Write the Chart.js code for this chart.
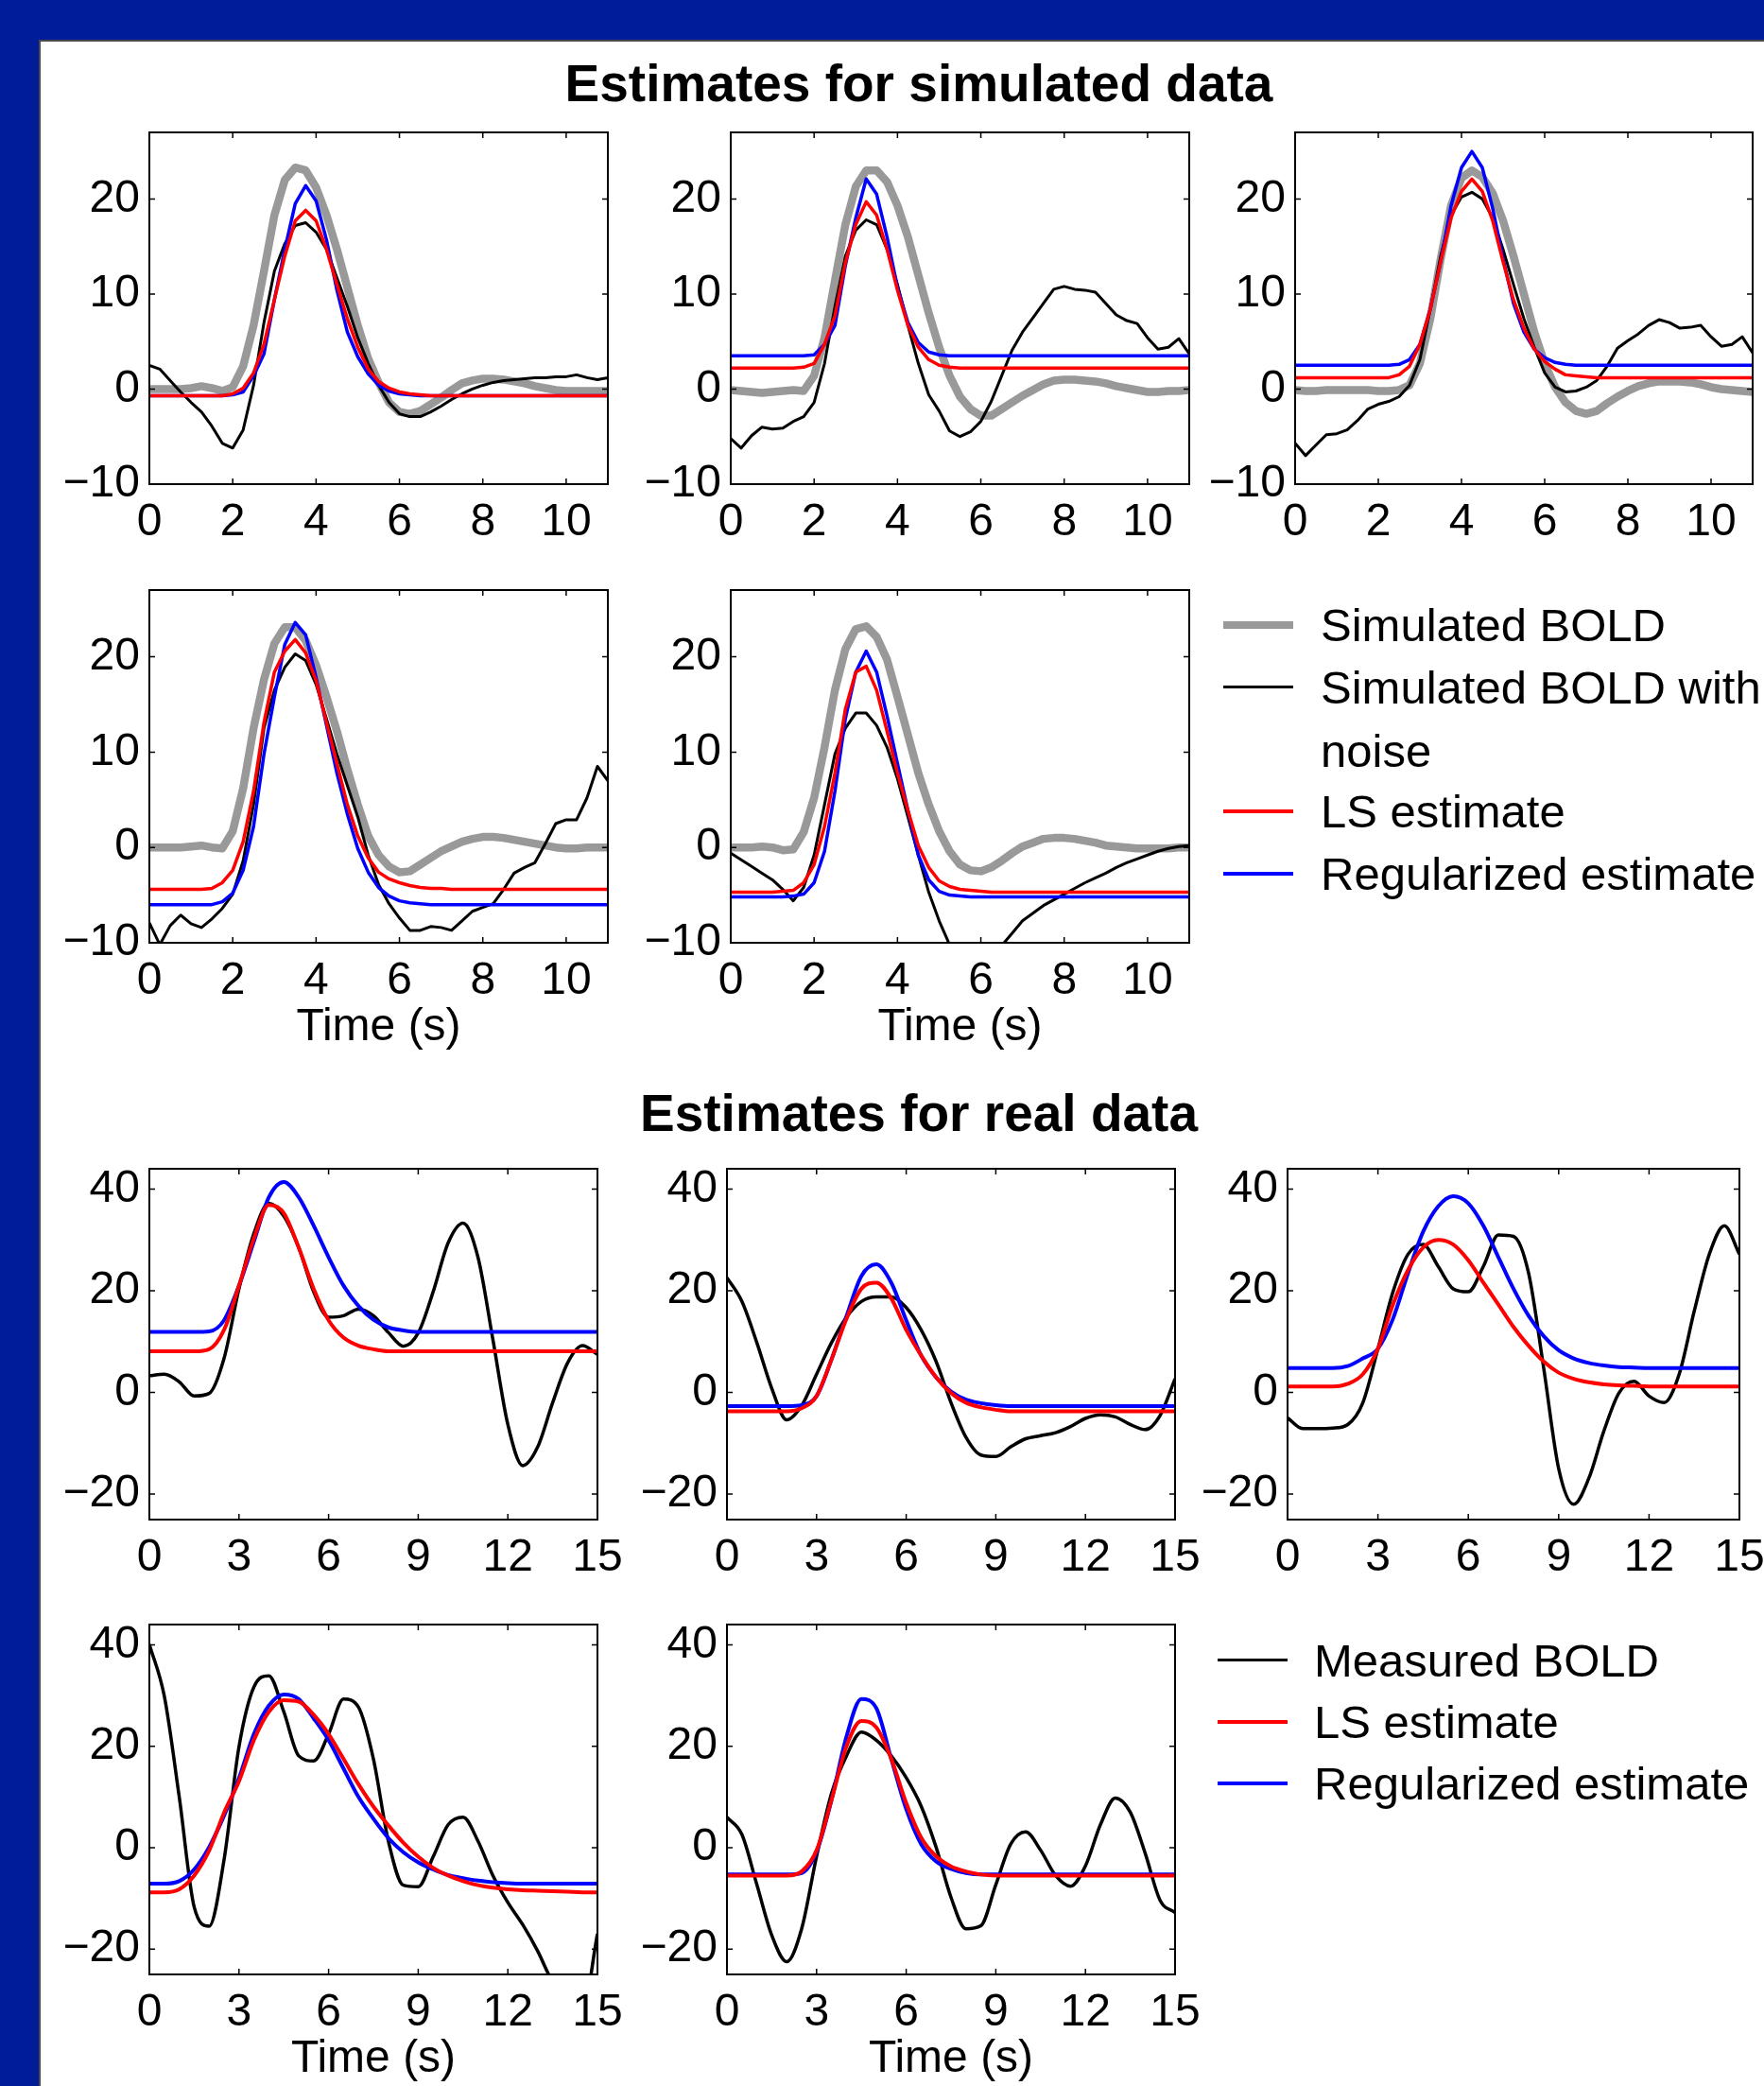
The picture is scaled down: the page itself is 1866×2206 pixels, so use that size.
<!DOCTYPE html>
<html>
<head>
<meta charset="utf-8">
<script src="https://cdn.jsdelivr.net/npm/chart.js@4.4.1/dist/chart.umd.min.js"></script>
<style>
  html, body { margin: 0; padding: 0; }
  body { width: 1866px; height: 2206px; background: #001c98; position: relative; overflow: hidden;
         font-family: "Liberation Sans", Arial, Helvetica, sans-serif; }
  #sheet { position: absolute; left: 41px; top: 42px; width: 1825px; height: 2164px; background: #fff;
           border-left: 2px solid #4a4a4a; border-top: 2px solid #4a4a4a; box-sizing: border-box; }
  .title { position: absolute; left: 472px; width: 1000px; text-align: center; font-weight: bold;
           font-size: 55px; line-height: 55px; color: #000; }
  .leg { position: absolute; font-size: 49px; line-height: 60px; color: #000; white-space: nowrap; }
  .sw { position: absolute; }
  canvas { position: absolute; }
</style>
</head>
<body>
<div id="sheet"></div>
<div class="title" style="top:61px">Estimates for simulated data</div>
<div class="title" style="top:1150px">Estimates for real data</div>

<!-- legend, simulated -->
<div class="sw" style="left:1294px;width:74px;top:657px;height:8px;background:#999999"></div>
<div class="leg" style="left:1397px;top:631px">Simulated BOLD</div>
<div class="sw" style="left:1294px;width:74px;top:725px;height:3px;background:#000"></div>
<div class="leg" style="left:1397px;top:697px">Simulated BOLD with</div>
<div class="leg" style="left:1397px;top:764px">noise</div>
<div class="sw" style="left:1294px;width:74px;top:856px;height:4px;background:#ff0000"></div>
<div class="leg" style="left:1397px;top:828px">LS estimate</div>
<div class="sw" style="left:1294px;width:74px;top:922px;height:4px;background:#0000ff"></div>
<div class="leg" style="left:1397px;top:894px">Regularized estimate</div>

<!-- legend, real -->
<div class="sw" style="left:1288px;width:74px;top:1754px;height:3px;background:#000"></div>
<div class="leg" style="left:1390px;top:1726px">Measured BOLD</div>
<div class="sw" style="left:1288px;width:74px;top:1819px;height:4px;background:#ff0000"></div>
<div class="leg" style="left:1390px;top:1791px">LS estimate</div>
<div class="sw" style="left:1288px;width:74px;top:1884px;height:4px;background:#0000ff"></div>
<div class="leg" style="left:1390px;top:1856px">Regularized estimate</div>

<script>
// axis ticks
const simTicksX = [0, 2, 4, 6, 8, 10];
const simTicksY = [-10, 0, 10, 20];
const realTicksX = [0, 3, 6, 9, 12, 15];
const realTicksY = [-20, 0, 20, 40];

// time samples
const tSim = [0, 0.25, 0.5, 0.75, 1, 1.25, 1.5, 1.75, 2, 2.25, 2.5, 2.75, 3, 3.25, 3.5, 3.75, 4, 4.25,
  4.5, 4.75, 5, 5.25, 5.5, 5.75, 6, 6.25, 6.5, 6.75, 7, 7.25, 7.5, 7.75, 8, 8.25, 8.5, 8.75, 9, 9.25,
  9.5, 9.75, 10, 10.25, 10.5, 10.75, 11];
const tReal = [0, 0.5, 1, 1.5, 2, 2.5, 3, 3.5, 4, 4.5, 5, 5.5, 6, 6.5, 7, 7.5, 8, 8.5, 9, 9.5, 10,
  10.5, 11, 11.5, 12, 12.5, 13, 13.5, 14, 14.5, 15];

// simulated data, panel 1
const sim1Bold = [0, 0, 0, 0, 0.1, 0.3, 0.1, -0.2, 0.2, 2.4, 6.7, 12.4, 18.3, 22, 23.3, 23, 21.2, 18.3, 14.7,
  10.7, 6.7, 3.2, 0.7, -1.4, -2.4, -2.6, -2.3, -1.6, -0.9, -0.1, 0.6, 0.9, 1.1, 1.1, 1.0, 0.8, 0.6, 0.3,
  0.1, -0.1, -0.2, -0.2, -0.2, -0.2, -0.2];
const sim1Noisy = [2.5, 2.1, 0.9, -0.3, -1.4, -2.4, -3.9, -5.7, -6.2, -4.3, 0.4, 7.0, 12.4, 15.3, 17.2, 17.5,
  16.5, 14.7, 11.7, 8.7, 5.4, 2.7, 0.4, -1.4, -2.6, -2.9, -2.9, -2.4, -1.8, -1.1, -0.5, 0.0, 0.4, 0.7, 0.9,
  1.0, 1.1, 1.2, 1.2, 1.3, 1.3, 1.5, 1.2, 1.0, 1.2];
const sim1LS = [-0.7, -0.7, -0.7, -0.7, -0.7, -0.7, -0.7, -0.7, -0.5, 0.1, 1.7, 4.7, 9.4, 14, 17.7, 18.8,
  17.7, 14.7, 11, 7.4, 4.4, 2.1, 0.8, 0.1, -0.3, -0.5, -0.6, -0.7, -0.7, -0.7, -0.7, -0.7, -0.7, -0.7,
  -0.7, -0.7, -0.7, -0.7, -0.7, -0.7, -0.7, -0.7, -0.7, -0.7, -0.7];
const sim1Reg = [-0.7, -0.7, -0.7, -0.7, -0.7, -0.7, -0.7, -0.7, -0.6, -0.3, 1.4, 3.7, 9.4, 14.7, 19.5, 21.4,
  19.8, 15.7, 10.4, 6.0, 3.4, 1.6, 0.4, -0.2, -0.5, -0.6, -0.7, -0.7, -0.7, -0.7, -0.7, -0.7, -0.7, -0.7,
  -0.7, -0.7, -0.7, -0.7, -0.7, -0.7, -0.7, -0.7, -0.7, -0.7, -0.7];

// panel 2
const sim2Bold = [-0.1, -0.2, -0.3, -0.4, -0.3, -0.2, -0.1, -0.2, 1.4, 5.4, 11.4, 17.3, 21.3, 23, 23, 21.8,
  19.3, 16, 12, 8, 4.4, 1.4, -0.8, -2.1, -2.8, -2.8, -2.1, -1.4, -0.7, -0.1, 0.5, 0.9, 1.0, 1.0, 0.9, 0.8,
  0.6, 0.3, 0.1, -0.1, -0.3, -0.3, -0.2, -0.2, -0.1];
const sim2Noisy = [-5.2, -6.2, -4.9, -4.0, -4.2, -4.1, -3.4, -2.9, -1.4, 2.7, 8.7, 14, 16.7, 17.8, 17.3, 14.7,
  11, 6.7, 2.7, -0.6, -2.3, -4.4, -5.0, -4.5, -3.4, -1.3, 1.4, 4.1, 6.0, 7.5, 9.0, 10.5, 10.8, 10.5, 10.4,
  10.2, 9.0, 7.8, 7.2, 6.9, 5.4, 4.2, 4.4, 5.3, 3.7];
const sim2LS = [2.2, 2.2, 2.2, 2.2, 2.2, 2.2, 2.2, 2.3, 2.7, 4.7, 7.7, 13.3, 17.3, 19.7, 18.3, 14.7, 10.4,
  6.7, 4.4, 3.1, 2.5, 2.3, 2.2, 2.2, 2.2, 2.2, 2.2, 2.2, 2.2, 2.2, 2.2, 2.2, 2.2, 2.2, 2.2, 2.2, 2.2, 2.2,
  2.2, 2.2, 2.2, 2.2, 2.2, 2.2, 2.2];
const sim2Reg = [3.5, 3.5, 3.5, 3.5, 3.5, 3.5, 3.5, 3.5, 3.6, 4.7, 6.7, 13.0, 18.0, 22.1, 20.5, 16, 10.7,
  7.0, 4.9, 3.9, 3.6, 3.5, 3.5, 3.5, 3.5, 3.5, 3.5, 3.5, 3.5, 3.5, 3.5, 3.5, 3.5, 3.5, 3.5, 3.5, 3.5, 3.5,
  3.5, 3.5, 3.5, 3.5, 3.5, 3.5, 3.5];

// panel 3
const sim3Bold = [-0.1, -0.2, -0.2, -0.1, -0.1, -0.1, -0.1, -0.1, -0.2, -0.2, -0.1, 0.4, 2.7, 7.4, 13.7,
  19.3, 22.2, 23, 22.3, 20.6, 17.7, 14, 10, 6, 2.7, 0.2, -1.4, -2.3, -2.6, -2.3, -1.5, -0.8, -0.2, 0.3,
  0.6, 0.8, 0.8, 0.8, 0.7, 0.5, 0.2, 0.0, -0.1, -0.2, -0.3];
const sim3Noisy = [-5.7, -7.0, -5.9, -4.8, -4.7, -4.3, -3.3, -2.1, -1.6, -1.3, -0.8, 0.4, 3.1, 8.4, 14.0,
  18.3, 20.2, 20.7, 20, 18, 14.7, 11, 7.4, 4.4, 1.7, 0.2, -0.3, -0.2, 0.2, 0.9, 2.4, 4.3, 5.1, 5.8, 6.7,
  7.3, 7.0, 6.4, 6.5, 6.7, 5.5, 4.5, 4.7, 5.5, 3.8];
const sim3LS = [1.2, 1.2, 1.2, 1.2, 1.2, 1.2, 1.2, 1.2, 1.2, 1.2, 1.5, 2.4, 4.7, 8.4, 13.4, 18, 20.8, 22.1,
  20.8, 17.7, 13.4, 9.4, 6.4, 4.2, 2.9, 2.1, 1.5, 1.4, 1.3, 1.2, 1.2, 1.2, 1.2, 1.2, 1.2, 1.2, 1.2, 1.2,
  1.2, 1.2, 1.2, 1.2, 1.2, 1.2, 1.2];
const sim3Reg = [2.5, 2.5, 2.5, 2.5, 2.5, 2.5, 2.5, 2.5, 2.5, 2.5, 2.6, 3.1, 4.7, 8.4, 13.4, 19.3, 23.3, 25,
  23.3, 19, 13.7, 9, 6, 4.2, 3.3, 2.8, 2.6, 2.5, 2.5, 2.5, 2.5, 2.5, 2.5, 2.5, 2.5, 2.5, 2.5, 2.5, 2.5,
  2.5, 2.5, 2.5, 2.5, 2.5, 2.5];

// panel 4
const sim4Bold = [0, 0, 0, 0, 0.1, 0.2, 0, -0.1, 1.7, 6.2, 12.5, 17.6, 21.4, 23.1, 23.1, 21.7, 19.1, 15.8,
  12.2, 8.2, 4.5, 1.2, -0.8, -2.0, -2.6, -2.5, -1.8, -1.1, -0.4, 0.1, 0.6, 0.9, 1.1, 1.1, 1.0, 0.8, 0.6,
  0.4, 0.2, 0.0, -0.1, -0.1, 0, 0, 0];
const sim4Noisy = [-7.9, -10.2, -8.2, -7.1, -8.0, -8.4, -7.5, -6.4, -4.9, -1.4, 4.5, 12.5, 16.5, 18.9, 20.3,
  19.6, 17.1, 13.5, 9.8, 6.5, 3.2, -0.8, -3.9, -5.9, -7.4, -8.7, -8.7, -8.3, -8.4, -8.7, -7.7, -6.7, -6.3,
  -5.9, -4.4, -2.7, -2.1, -1.6, 0.4, 2.5, 2.9, 2.9, 5.2, 8.5, 7.0];
const sim4LS = [-4.4, -4.4, -4.4, -4.4, -4.4, -4.4, -4.3, -3.7, -2.4, 0.6, 5.9, 13.1, 18.4, 20.6, 21.8,
  20.4, 17.5, 13.1, 8.8, 4.5, 1.2, -1.1, -2.6, -3.3, -3.7, -4.0, -4.2, -4.3, -4.3, -4.4, -4.4, -4.4, -4.4,
  -4.4, -4.4, -4.4, -4.4, -4.4, -4.4, -4.4, -4.4, -4.4, -4.4, -4.4, -4.4];
const sim4Reg = [-6.0, -6.0, -6.0, -6.0, -6.0, -6.0, -6.0, -5.7, -4.8, -2.4, 2.2, 9.8, 15.8, 21.3, 23.6,
  22.3, 17.8, 12.8, 7.8, 3.5, -0.1, -2.6, -4.2, -5.1, -5.6, -5.8, -5.9, -6.0, -6.0, -6.0, -6.0, -6.0,
  -6.0, -6.0, -6.0, -6.0, -6.0, -6.0, -6.0, -6.0, -6.0, -6.0, -6.0, -6.0, -6.0];

// panel 5
const sim5Bold = [0, 0, 0, 0.1, 0, -0.3, -0.2, 1.6, 5.2, 10.5, 16.5, 20.8, 22.9, 23.2, 22.1, 19.7, 15.8,
  11.8, 7.8, 4.5, 1.7, -0.4, -1.8, -2.4, -2.5, -2.1, -1.4, -0.6, 0.1, 0.5, 0.9, 1.0, 1.0, 0.9, 0.7, 0.5,
  0.2, 0.1, 0, -0.1, -0.1, -0.1, -0.1, 0, 0];
const sim5Noisy = [-0.6, -1.3, -2.0, -2.7, -3.4, -4.4, -5.6, -4.2, -0.8, 4.5, 9.8, 12.5, 14.1, 14.1, 12.8,
  10.5, 7.2, 3.2, -0.8, -4.7, -7.7, -10.2, -12.0, -13.0, -13.2, -12.0, -10.3, -9.0, -7.7, -6.9, -6.1,
  -5.5, -4.9, -4.3, -3.7, -3.2, -2.7, -2.1, -1.6, -1.2, -0.8, -0.4, -0.1, 0.1, 0.2];
const sim5LS = [-4.7, -4.7, -4.7, -4.7, -4.7, -4.6, -4.5, -3.7, -1.8, 2.2, 7.8, 14.5, 18.4, 19.0, 16.5,
  12.2, 7.8, 3.9, 0.2, -2.1, -3.5, -4.1, -4.4, -4.5, -4.6, -4.7, -4.7, -4.7, -4.7, -4.7, -4.7, -4.7, -4.7,
  -4.7, -4.7, -4.7, -4.7, -4.7, -4.7, -4.7, -4.7, -4.7, -4.7, -4.7, -4.7];
const sim5Reg = [-5.2, -5.2, -5.2, -5.2, -5.2, -5.2, -5.1, -4.9, -3.7, -0.4, 5.9, 13.5, 18.4, 20.6, 18.4,
  13.8, 8.8, 3.9, -0.8, -3.4, -4.6, -5.0, -5.1, -5.2, -5.2, -5.2, -5.2, -5.2, -5.2, -5.2, -5.2, -5.2,
  -5.2, -5.2, -5.2, -5.2, -5.2, -5.2, -5.2, -5.2, -5.2, -5.2, -5.2, -5.2, -5.2];

// real data, panels 1-5
const real1Measured = [3.3, 3.6, 2.1, -0.7, -0.2, 6.7, 20.4, 31.3, 37.2, 34.7, 28.5, 19.8, 14.8, 15.1, 16.4,
  15.1, 11.8, 9.1, 11.7, 19.8, 29.4, 33.3, 26.6, 10.4, -6.3, -14.4, -10.7, -2.0, 5.8, 9.2, 7.5];
const real1LS = [8.1, 8.1, 8.1, 8.1, 8.5, 12.3, 21.0, 30.3, 36.9, 35.3, 28.5, 20.4, 14.2, 10.8, 9.2, 8.5,
  8.1, 8.1, 8.1, 8.1, 8.1, 8.1, 8.1, 8.1, 8.1, 8.1, 8.1, 8.1, 8.1, 8.1, 8.1];
const real1Reg = [11.9, 11.9, 11.9, 11.9, 12.0, 14.2, 21.0, 29.7, 38.4, 41.4, 38.4, 32.8, 26.6, 21.0, 17.0,
  14.3, 12.8, 12.2, 11.9, 11.9, 11.9, 11.9, 11.9, 11.9, 11.9, 11.9, 11.9, 11.9, 11.9, 11.9, 11.9];

const real2Measured = [22.6, 17.9, 9.8, 0.8, -5.4, -2.6, 3.6, 9.8, 14.8, 17.9, 18.8, 18.8, 16.7, 12.3, 6.1,
  -2.0, -8.8, -12.3, -12.6, -10.7, -9.1, -8.5, -7.9, -6.7, -5.1, -4.4, -4.8, -6.3, -7.3, -4.5, 2.7];
const real2LS = [-3.7, -3.7, -3.7, -3.7, -3.7, -3.1, -0.7, 6.5, 14.5, 20.4, 21.6, 18.5, 12.3, 7.3, 3.0,
  -0.1, -2.0, -2.9, -3.4, -3.7, -3.7, -3.7, -3.7, -3.7, -3.7, -3.7, -3.7, -3.7, -3.7, -3.7, -3.7];
const real2Reg = [-2.7, -2.7, -2.7, -2.7, -2.7, -2.5, -0.7, 6.5, 15.0, 22.9, 25.2, 21.6, 14.2, 7.3, 3.0,
  0.2, -1.4, -2.1, -2.5, -2.7, -2.7, -2.7, -2.7, -2.7, -2.7, -2.7, -2.7, -2.7, -2.7, -2.7, -2.7];

const real3Measured = [-5.0, -7.1, -7.1, -7.0, -6.3, -2.0, 8.6, 19.8, 27.2, 29.1, 24.8, 20.4, 19.8, 24.8,
  31.0, 30.7, 23.5, 4.9, -15.0, -22.0, -16.9, -7.6, -0.1, 2.2, -0.7, -2.0, 3.6, 16.0, 27.2, 32.8, 27.2];
const real3LS = [1.2, 1.2, 1.2, 1.2, 1.7, 3.6, 8.6, 17.3, 24.1, 28.5, 30.0, 29.1, 26.0, 21.6, 17.3, 12.9,
  9.2, 6.1, 3.9, 2.7, 2.0, 1.6, 1.4, 1.3, 1.2, 1.2, 1.2, 1.2, 1.2, 1.2, 1.2];
const real3Reg = [4.8, 4.8, 4.8, 4.8, 5.2, 6.7, 8.6, 14.5, 23.5, 31.6, 36.6, 38.6, 37.2, 32.8, 26.6, 20.4,
  15.1, 11.1, 8.3, 6.7, 5.8, 5.3, 5.0, 4.9, 4.8, 4.8, 4.8, 4.8, 4.8, 4.8, 4.8];

const real4Measured = [40.1, 29.9, 10.0, -11.7, -15.5, -2.4, 19.9, 31.7, 33.9, 26.8, 18.1, 17.1, 22.4, 29.3,
  27.7, 17.5, 1.3, -7.4, -7.7, -1.8, 4.5, 6.0, 1.3, -5.5, -10.8, -15.2, -20.4, -26.5, -30, -32, -17.0];
const real4LS = [-8.8, -8.8, -8.2, -5.5, -0.6, 6.9, 13.1, 21.2, 26.8, 29.1, 28.8, 26.2, 22.4, 17.5, 12.5,
  8.1, 4.4, 1.0, -1.8, -4.0, -5.5, -6.6, -7.4, -7.9, -8.2, -8.4, -8.5, -8.6, -8.7, -8.8, -8.8];
const real4Reg = [-7.1, -7.1, -6.6, -4.3, 0.1, 6.3, 13.7, 22.4, 28.0, 30.2, 29.3, 25.5, 21.2, 15.6, 10.0,
  5.7, 1.9, -0.9, -2.9, -4.3, -5.4, -6.0, -6.5, -6.8, -7.0, -7.1, -7.1, -7.1, -7.1, -7.1, -7.1];

const real5Measured = [6.0, 2.6, -7.3, -17.3, -22.5, -16.0, -1.7, 10.7, 18.1, 22.8, 21.2, 18.1, 13.8, 8.2,
  0.1, -9.8, -16.0, -15.4, -7.3, 0.7, 3.1, -0.5, -5.5, -7.6, -3.6, 4.5, 9.8, 7.0, -1.1, -10.4, -12.8];
const real5LS = [-5.5, -5.5, -5.5, -5.5, -5.5, -4.7, -0.5, 9.4, 20.0, 25.0, 23.7, 17.5, 8.8, 2.0, -1.7,
  -3.7, -4.7, -5.3, -5.5, -5.5, -5.5, -5.5, -5.5, -5.5, -5.5, -5.5, -5.5, -5.5, -5.5, -5.5, -5.5];
const real5Reg = [-5.3, -5.3, -5.3, -5.3, -5.3, -5.0, -0.8, 9.4, 21.9, 29.3, 27.5, 17.5, 7.6, 0.7, -2.7,
  -4.2, -5.0, -5.3, -5.3, -5.3, -5.3, -5.3, -5.3, -5.3, -5.3, -5.3, -5.3, -5.3, -5.3, -5.3, -5.3];

// ---- drawing ----
const FONT = '"Liberation Sans", Arial, Helvetica, sans-serif';
const tickFont = { family: FONT, size: 48 };
const minus = v => (v < 0 ? '\u2212' + Math.abs(v) : String(v));

// matlab style box with inward ticks on all four sides
const axesBox = {
  id: 'axesBox',
  afterDatasetsDraw(chart) {
    const { ctx, chartArea: a, scales: { x, y } } = chart;
    ctx.save();
    ctx.strokeStyle = '#000';
    ctx.lineWidth = 2;
    ctx.strokeRect(a.left, a.top, a.right - a.left, a.bottom - a.top);
    ctx.lineWidth = 1.5;
    ctx.beginPath();
    x.ticks.forEach(t => {
      const px = x.getPixelForValue(t.value);
      ctx.moveTo(px, a.bottom); ctx.lineTo(px, a.bottom - 6);
      ctx.moveTo(px, a.top); ctx.lineTo(px, a.top + 6);
    });
    y.ticks.forEach(t => {
      const py = y.getPixelForValue(t.value);
      ctx.moveTo(a.left, py); ctx.lineTo(a.left + 6, py);
      ctx.moveTo(a.right, py); ctx.lineTo(a.right - 6, py);
    });
    ctx.stroke();
    ctx.restore();
  }
};

const zip = (t, v) => t.map((x, i) => ({ x: x, y: v[i] }));

function line(t, v, color, width, smooth) {
  return {
    data: zip(t, v), borderColor: color, borderWidth: width, pointRadius: 0,
    tension: 0, cubicInterpolationMode: smooth ? 'monotone' : 'default',
    borderJoinStyle: 'round', clip: 0, fill: false
  };
}

function simSets(bold, noisy, ls, reg) {
  // first entry is drawn on top
  return [
    line(tSim, ls, '#ff0000', 3.5),
    line(tSim, reg, '#0000ff', 3.5),
    line(tSim, noisy, '#000000', 3),
    line(tSim, bold, '#999999', 8.5)
  ];
}
function realSets(meas, ls, reg) {
  return [
    line(tReal, ls, '#ff0000', 4, true),
    line(tReal, reg, '#0000ff', 4, true),
    line(tReal, meas, '#000000', 3.5, true)
  ];
}

const simAxes = { xMax: 11, yMin: -10, yMax: 27, xTicks: simTicksX, yTicks: simTicksY };
const realAxes = { xMax: 15, yMin: -25, yMax: 44, xTicks: realTicksX, yTicks: realTicksY };

const panels = [
  { box: [158, 140, 643, 512], ax: simAxes, sets: simSets(sim1Bold, sim1Noisy, sim1LS, sim1Reg) },
  { box: [773, 140, 1258, 512], ax: simAxes, sets: simSets(sim2Bold, sim2Noisy, sim2LS, sim2Reg) },
  { box: [1370, 140, 1854, 512], ax: simAxes, sets: simSets(sim3Bold, sim3Noisy, sim3LS, sim3Reg) },
  { box: [158, 624, 643, 997], ax: simAxes, sets: simSets(sim4Bold, sim4Noisy, sim4LS, sim4Reg), xTitle: true },
  { box: [773, 624, 1258, 997], ax: simAxes, sets: simSets(sim5Bold, sim5Noisy, sim5LS, sim5Reg), xTitle: true },
  { box: [158, 1236, 632, 1607], ax: realAxes, sets: realSets(real1Measured, real1LS, real1Reg) },
  { box: [769, 1236, 1243, 1607], ax: realAxes, sets: realSets(real2Measured, real2LS, real2Reg) },
  { box: [1362, 1236, 1840, 1607], ax: realAxes, sets: realSets(real3Measured, real3LS, real3Reg) },
  { box: [158, 1718, 632, 2088], ax: realAxes, sets: realSets(real4Measured, real4LS, real4Reg), xTitle: true },
  { box: [769, 1718, 1243, 2088], ax: realAxes, sets: realSets(real5Measured, real5LS, real5Reg), xTitle: true }
];

function makePanel(p) {
  const [l, t, r, b] = p.box;
  const YW = 140, RP = 40, TP = 50;
  const XH = p.xTitle ? 130 : 70;
  const w = YW + (r - l) + RP, h = TP + (b - t) + XH;
  const cv = document.createElement('canvas');
  cv.width = w; cv.height = h;
  cv.style.left = (l - YW) + 'px';
  cv.style.top = (t - TP) + 'px';
  cv.style.width = w + 'px';
  cv.style.height = h + 'px';
  document.body.appendChild(cv);

  new Chart(cv, {
    type: 'line',
    data: { datasets: p.sets },
    options: {
      responsive: false,
      animation: false,
      devicePixelRatio: 1,
      events: [],
      layout: { padding: { left: 0, right: RP, top: TP, bottom: 0 } },
      plugins: { legend: { display: false }, tooltip: { enabled: false } },
      scales: {
        x: {
          type: 'linear', min: 0, max: p.ax.xMax,
          grid: { display: false }, border: { display: false },
          afterBuildTicks: s => { s.ticks = p.ax.xTicks.map(v => ({ value: v })); },
          afterFit: s => { s.height = XH; },
          ticks: { padding: 4, font: tickFont, color: '#000', maxRotation: 0, autoSkip: false, callback: minus },
          title: { display: !!p.xTitle, text: 'Time (s)', font: tickFont, color: '#000',
                   padding: { top: 0, bottom: 11 } }
        },
        y: {
          type: 'linear', min: p.ax.yMin, max: p.ax.yMax,
          grid: { display: false }, border: { display: false },
          afterBuildTicks: s => { s.ticks = p.ax.yTicks.map(v => ({ value: v })); },
          afterFit: s => { s.width = YW; },
          ticks: { padding: 2, font: tickFont, color: '#000', autoSkip: false, callback: minus }
        }
      }
    },
    plugins: [axesBox]
  });
}

panels.forEach(makePanel);
</script>
</body>
</html>
